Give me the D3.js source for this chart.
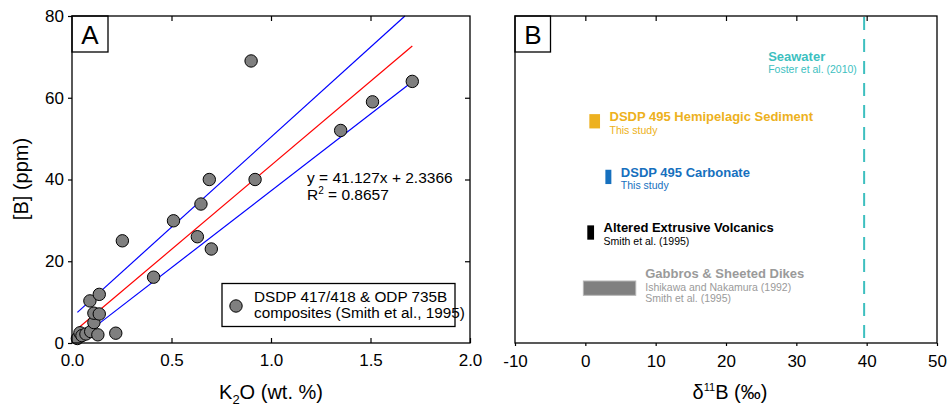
<!DOCTYPE html>
<html>
<head>
<meta charset="utf-8">
<script src="https://cdn.jsdelivr.net/npm/d3@7"></script>
<style>
  body { margin: 0; background: #fff; }
  svg { font-family: "Liberation Sans", Arial, sans-serif; }
  .frame { fill: none; stroke: #000; stroke-width: 1.3; }
  .axis path { display: none; }
  .axis line { stroke: #000; stroke-width: 1.2; }
  .axis text { font-size: 17px; fill: #000; font-family: "Liberation Sans", Arial, sans-serif; }
</style>
</head>
<body>
<div id="chart"></div>
<script>
// panel A: K2O vs [B]
var k2o   = [0.027, 0.04, 0.05, 0.07, 0.094, 0.13, 0.22, 0.11, 0.11, 0.137, 0.09, 0.137, 0.253, 0.41, 0.51, 0.648, 0.63, 0.70, 0.69, 0.92, 0.90, 1.35, 1.51, 1.71];
var boron = [1.1,   2.5,  1.8,  2.2,  2.8,   2.0,  2.4,  5.0,  7.3,  7.1,   10.3, 11.9,  25,    16.1, 29.9, 34,    26,   23,   40,   40,   69,   52,   59,   64];
var fitLine   = [[0.035, 3.78], [1.71, 72.66]];
var upperLine = [[0.027, 7.5], [1.673, 80]];
var lowerLine = [[0.116, 4.0], [1.71, 63.9]];
var xTicksA = [0, 0.5, 1.0, 1.5, 2.0];
var yTicksA = [0, 20, 40, 60, 80];

// panel B: d11B ranges
var groups   = ["Seawater", "DSDP 495 Hemipelagic Sediment", "DSDP 495 Carbonate", "Altered Extrusive Volcanics", "Gabbros & Sheeted Dikes"];
var refs     = [["Foster et al. (2010)"], ["This study"], ["This study"], ["Smith et al. (1995)"], ["Ishikawa and Nakamura (1992)", "Smith et al. (1995)"]];
var rangeMin = [null, 0.57, 2.85, 0.28, -0.28];
var rangeMax = [null, 2.09, 3.70, 1.24, 7.17];
var seawater = 39.64;
var colors   = ["#3dbfbf", "#edb120", "#1670be", "#000000", "#9a9a9a"];
var xTicksB  = [-10, 0, 10, 20, 30, 40, 50];

var width = 950, height = 406;
var svg = d3.select("#chart").append("svg")
    .attr("width", width)
    .attr("height", height);

// ---------- panel A ----------
var xA = d3.scaleLinear().domain([0, 2]).range([72, 470]);
var yA = d3.scaleLinear().domain([0, 80]).range([343, 16]);

var gA = svg.append("g");

gA.append("g").attr("class", "axis")
    .attr("transform", "translate(0,343)")
    .call(d3.axisBottom(xA).tickValues(xTicksA).tickFormat(d3.format(".1f"))
        .tickSizeInner(-5).tickSizeOuter(0).tickPadding(11));
gA.append("g").attr("class", "axis")
    .attr("transform", "translate(0,16)")
    .call(d3.axisTop(xA).tickValues(xTicksA.slice(1, 4)).tickFormat("")
        .tickSizeInner(-5).tickSizeOuter(0));
gA.append("g").attr("class", "axis")
    .attr("transform", "translate(72,0)")
    .call(d3.axisLeft(yA).tickValues(yTicksA).tickSizeInner(4).tickSizeOuter(0).tickPadding(4));
gA.append("g").attr("class", "axis")
    .attr("transform", "translate(470,0)")
    .call(d3.axisRight(yA).tickValues(yTicksA.slice(1, 4)).tickFormat("")
        .tickSizeInner(-5).tickSizeOuter(0));

var line = d3.line()
    .x(function(d) { return xA(d[0]); })
    .y(function(d) { return yA(d[1]); });

gA.append("path").datum(upperLine).attr("d", line)
    .attr("fill", "none").attr("stroke", "#0000ff").attr("stroke-width", 1.2);
gA.append("path").datum(lowerLine).attr("d", line)
    .attr("fill", "none").attr("stroke", "#0000ff").attr("stroke-width", 1.2);
gA.append("path").datum(fitLine).attr("d", line)
    .attr("fill", "none").attr("stroke", "#ff0000").attr("stroke-width", 1.2);

gA.selectAll(".pt")
    .data(k2o)
    .enter()
    .append("circle")
    .attr("class", "pt")
    .attr("cx", function(d) { return xA(d); })
    .attr("cy", function(d, i) { return yA(boron[i]); })
    .attr("r", 6.2)
    .attr("fill", "#7f7f7f")
    .attr("stroke", "#000")
    .attr("stroke-width", 1);

gA.append("rect").attr("class", "frame")
    .attr("x", 72).attr("y", 16).attr("width", 398).attr("height", 327);

// equation
gA.append("text").attr("x", 307).attr("y", 183)
    .style("font-size", "15.5px").text("y = 41.127x + 2.3366");
var r2 = gA.append("text").attr("x", 307).attr("y", 200).style("font-size", "15.5px");
r2.append("tspan").text("R");
r2.append("tspan").attr("dy", -6).style("font-size", "10px").text("2");
r2.append("tspan").attr("dy", 6).text(" = 0.8657");

// legend
gA.append("rect").attr("class", "frame")
    .attr("x", 222).attr("y", 283.5).attr("width", 233).attr("height", 43).attr("stroke-width", 1.2);
gA.append("circle").attr("cx", 236).attr("cy", 306).attr("r", 6.2)
    .attr("fill", "#7f7f7f").attr("stroke", "#000");
gA.append("text").attr("x", 254).attr("y", 302).style("font-size", "15.3px").text("DSDP 417/418 & ODP 735B");
gA.append("text").attr("x", 254).attr("y", 318).style("font-size", "15.3px").text("composites (Smith et al., 1995)");

// label box
gA.append("rect").attr("class", "frame")
    .attr("x", 72).attr("y", 16).attr("width", 36).attr("height", 36);
gA.append("text").attr("x", 90).attr("y", 44).attr("text-anchor", "middle")
    .style("font-size", "26px").text("A");

// axis titles
var xtA = gA.append("text").attr("x", 271).attr("y", 399).attr("text-anchor", "middle")
    .style("font-size", "20px");
xtA.append("tspan").text("K");
xtA.append("tspan").attr("dy", 5).style("font-size", "13px").text("2");
xtA.append("tspan").attr("dy", -5).text("O (wt. %)");

gA.append("text")
    .attr("transform", "translate(28,179) rotate(-90)")
    .attr("text-anchor", "middle")
    .style("font-size", "20px")
    .text("[B] (ppm)");

// ---------- panel B ----------
var xB = d3.scaleLinear().domain([-10, 50]).range([515, 937]);
var yB = d3.scalePoint().domain(groups).range([65.5, 288]);

var gB = svg.append("g");

gB.append("g").attr("class", "axis")
    .attr("transform", "translate(0,343)")
    .call(d3.axisBottom(xB).tickValues(xTicksB).tickFormat(function(d) { return String(d); })
        .tickSizeInner(3).tickSizeOuter(0).tickPadding(8.5));
gB.append("g").attr("class", "axis")
    .attr("transform", "translate(0,16)")
    .call(d3.axisTop(xB).tickValues(xTicksB.slice(1, 6)).tickFormat("")
        .tickSizeInner(-5).tickSizeOuter(0));

// seawater line
gB.append("line")
    .attr("x1", xB(seawater)).attr("x2", xB(seawater))
    .attr("y1", 17).attr("y2", 343)
    .attr("stroke", colors[0])
    .attr("stroke-width", 2)
    .attr("stroke-dasharray", "13,9");

gB.append("text").attr("x", xB(seawater) - 96).attr("y", 61)
    .attr("fill", colors[0]).style("font-size", "13px").style("font-weight", "bold")
    .text(groups[0]);
gB.append("text").attr("x", xB(seawater) - 96).attr("y", 73)
    .attr("fill", colors[0]).style("font-size", "10.5px")
    .text(refs[0][0]);

var items = d3.range(1, groups.length);

gB.selectAll(".range")
    .data(items)
    .enter()
    .append("rect")
    .attr("class", "range")
    .attr("x", function(i) { return xB(rangeMin[i]); })
    .attr("width", function(i) { return xB(rangeMax[i]) - xB(rangeMin[i]); })
    .attr("y", function(i) { return yB(groups[i]) - 7; })
    .attr("height", 14.3)
    .attr("fill", function(i) { return i === 4 ? "#808080" : colors[i]; })
    .attr("stroke", function(i) { return i === 4 ? "#b5b5b5" : "none"; })
    .attr("stroke-width", 1);

items.forEach(function(i) {
    var cy = yB(groups[i]);
    var tx = xB(rangeMax[i]) + 9.5;
    var top = cy - 10 * (refs[i].length - 1);
    gB.append("text").attr("x", tx).attr("y", top)
        .attr("fill", colors[i]).style("font-size", "13px").style("font-weight", "bold")
        .text(groups[i]);
    refs[i].forEach(function(r, k) {
        gB.append("text").attr("x", tx).attr("y", top + 12.5 + 11.8 * k)
            .attr("fill", colors[i]).style("font-size", "10.5px")
            .text(r);
    });
});

gB.append("rect").attr("class", "frame")
    .attr("x", 515).attr("y", 16).attr("width", 422).attr("height", 327);
gB.append("rect").attr("class", "frame")
    .attr("x", 515).attr("y", 16).attr("width", 35.5).attr("height", 36);
gB.append("text").attr("x", 533).attr("y", 44).attr("text-anchor", "middle")
    .style("font-size", "26px").text("B");

var xtB = gB.append("text").attr("x", 730).attr("y", 399).attr("text-anchor", "middle")
    .style("font-size", "20px");
xtB.append("tspan").text("δ");
xtB.append("tspan").attr("dy", -8).style("font-size", "11px").text("11");
xtB.append("tspan").attr("dy", 8).text("B (‰)");
</script>
</body>
</html>
